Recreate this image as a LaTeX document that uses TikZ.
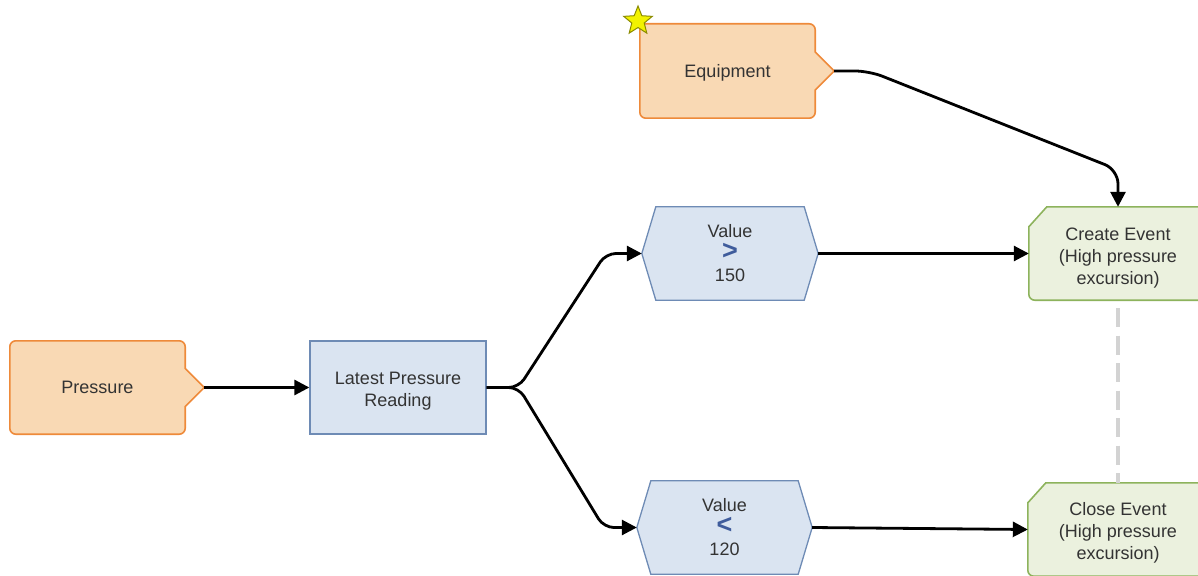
\documentclass[tikz,border=0pt]{standalone}
\usepackage{fontspec}
\setmainfont{Liberation Sans}
\usetikzlibrary{arrows.meta,calc,shapes.geometric}
\pgfdeclarelayer{bg}
\pgfsetlayers{bg,main}
\definecolor{orfill}{HTML}{F9D9B4}
\definecolor{ordraw}{HTML}{EE8A3A}
\definecolor{blfill}{HTML}{DAE4F1}
\definecolor{bldraw}{HTML}{6E8BB5}
\definecolor{grfill}{HTML}{EBF1DE}
\definecolor{grdraw}{HTML}{8DB35C}
\definecolor{txt}{HTML}{333333}
\definecolor{symb}{HTML}{3F5C9C}
\definecolor{dashc}{HTML}{D3D3D3}
\definecolor{staryellow}{HTML}{F2F200}
\definecolor{starline}{HTML}{8A8A00}
\newcommand\cmpsym[1]{{\color{symb}\fontsize{27}{22}\selectfont\bfseries #1}}
\newcommand\lowstrut[1]{\rule{0pt}{#1}}
\newcommand\tagpath[2]{%
  \path[#2] ($(#1.east)+(19,0)$) -- ($(#1.east)+(0,19)$) [rounded corners=6]
    -- (#1.south east) -- (#1.south west) -- (#1.north west) -- (#1.north east)
    [sharp corners] -- ($(#1.east)+(0,-19)$) -- cycle;}
\newcommand\chamferpath[2]{%
  \path[#2] ($(#1.north west)+(0,20)$) -- ($(#1.north west)+(18,0)$) [rounded corners=6]
    -- (#1.north east) -- (#1.south east) -- (#1.south west) [sharp corners] -- cycle;}
\newcommand\hexpath[2]{%
  \path[#2] (#1.west) -- ($(#1.north west)+(14,0)$) -- ($(#1.north east)+(-14,0)$)
    -- (#1.east) -- ($(#1.south east)+(-14,0)$) -- ($(#1.south west)+(14,0)$) -- cycle;}
\begin{document}
\begin{tikzpicture}[x=1pt,y=-1pt,
  box/.style={inner sep=0pt, minimum height=93pt, align=center, text=txt,
    font=\fontsize{18}{22}\selectfont},
  orangeshape/.style={fill=orfill, draw=ordraw, line width=1.6pt},
  blueshape/.style={fill=blfill, draw=bldraw, line width=1.3pt},
  greenshape/.style={fill=grfill, draw=grdraw, line width=1.6pt},
  conn/.style={draw=black, line width=2.8pt, -{Triangle[length=15pt,width=15pt]}},
  dashconn/.style={draw=dashc, line width=4pt, dash pattern=on 19pt off 8.5pt}]
\useasboundingbox (0,0) rectangle (1198,575);

\node[box, minimum width=175pt] (pressure) at (97.5,387.5) {Pressure};
\node[box, minimum width=176pt, blueshape] (latest) at (398,387.5) {\lowstrut{19pt}Latest Pressure\\Reading};
\node[box, minimum width=175pt, minimum height=94pt] (equip) at (727.5,71) {\lowstrut{17pt}Equipment};
\node[box, minimum width=176pt] (vgt) at (730,253.5) {Value\\\cmpsym{>}\\150};
\node[box, minimum width=175pt] (vlt) at (724.5,527.5) {Value\\\cmpsym{<}\\120};
\node[box, minimum width=178pt] (create) at (1118,253.5) {\lowstrut{21pt}Create Event\\(High pressure\\excursion)};
\node[box, minimum width=180pt] (close) at (1118,529.5) {\lowstrut{20pt}Close Event\\(High pressure\\excursion)};
\node[star, star points=5, star point ratio=2.3, minimum size=30pt, inner sep=0pt,
  fill=staryellow, draw=starline, line width=1pt] (star) at (638,21) {};

\begin{pgfonlayer}{bg}
  \tagpath{pressure}{orangeshape}
  \tagpath{equip}{orangeshape}
  \hexpath{vgt}{blueshape}
  \hexpath{vlt}{blueshape}
  \chamferpath{create}{greenshape}
  \chamferpath{close}{greenshape}
\end{pgfonlayer}

\coordinate (ptip) at ($(pressure.east)+(19,0)$);
\coordinate (etip) at ($(equip.east)+(19,0)$);

\draw[conn] (ptip) -- (latest.west);
\draw[conn, rounded corners=10] (latest.east) -- ++(32,0) -- ($(vgt.west)+(-36,0)$) -- (vgt.west);
\draw[conn, rounded corners=10] (latest.east) -- ++(32,0) -- ($(vlt.west)+(-33,0)$) -- (vlt.west);
\draw[conn] (vgt.east) -- (create.west);
\draw[conn] (vlt.east) -- (close.west);
\draw[conn, rounded corners=14] (etip) -- ++(35,0) -- ($(create.north)+(0,-37)$) -- (create.north);
\draw[dashconn] ($(create.south)+(0,8)$) -- (close.north);
\end{tikzpicture}
\end{document}
